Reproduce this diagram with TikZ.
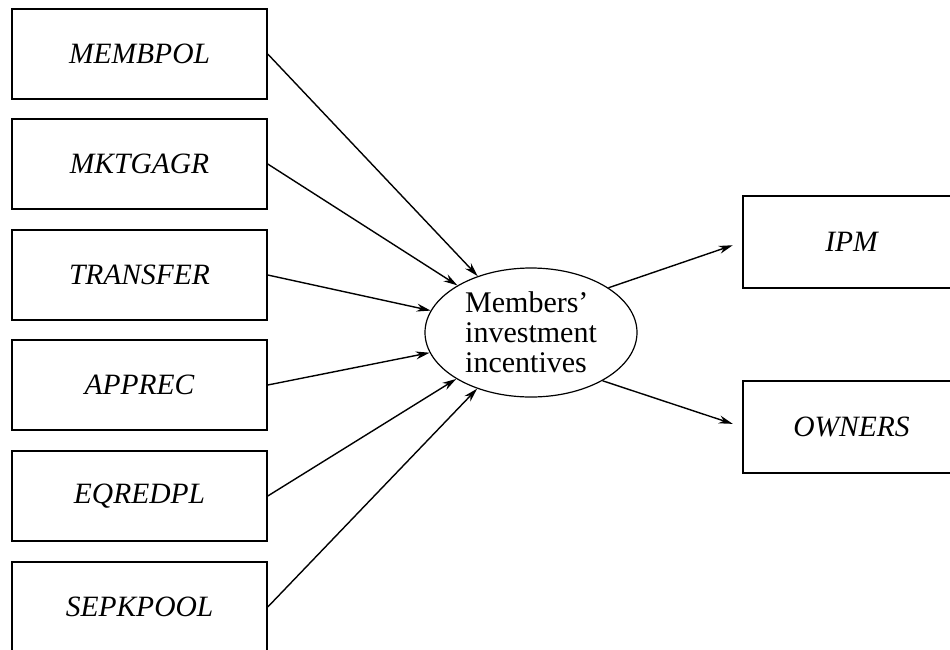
\documentclass[tikz,border=0pt]{standalone}
\usepackage{fontspec}
\setmainfont{Liberation Serif}
\usetikzlibrary{shapes.geometric,arrows.meta}
\begin{document}
\begin{tikzpicture}[x=1pt,y=-1pt,
  var/.style={draw,line width=1.5pt,rectangle,minimum width=255pt,minimum height=90pt,inner sep=0pt,font=\fontsize{29.5}{30}\selectfont\itshape},
  outv/.style={draw,line width=1.5pt,rectangle,minimum width=217pt,minimum height=92pt,inner sep=0pt,font=\fontsize{29.5}{30}\selectfont\itshape},
  arr/.style={line width=1.4pt,-{Stealth[length=14pt,width=8pt]}}]
\useasboundingbox (0,0) rectangle (950,649);
\node[var] (a) at (139.5,54) {MEMBPOL};
\node[var] (b) at (139.5,164) {MKTGAGR};
\node[var] (c) at (139.5,275) {TRANSFER};
\node[var] (d) at (139.5,385) {APPREC};
\node[var] (e) at (139.5,496) {EQREDPL};
\node[var] (f) at (139.5,607) {SEPKPOOL};
\node[draw,line width=1.2pt,ellipse,minimum width=212pt,minimum height=129pt,inner sep=0pt,align=left,font=\fontsize{30}{30}\selectfont] (m) at (531,332.5) {Members'\\investment\\incentives};
\node[outv] (ipm) at (851.5,242) {IPM};
\node[outv] (own) at (851.5,427) {OWNERS};
\foreach \n in {a,b,c,d,e,f} \draw[arr] (\n.east) -- (m);
\draw[arr,shorten >=10pt] (m.30) -- (ipm.west);
\draw[arr,shorten >=10pt] (m.-34) -- (own.west);
\end{tikzpicture}
\end{document}
